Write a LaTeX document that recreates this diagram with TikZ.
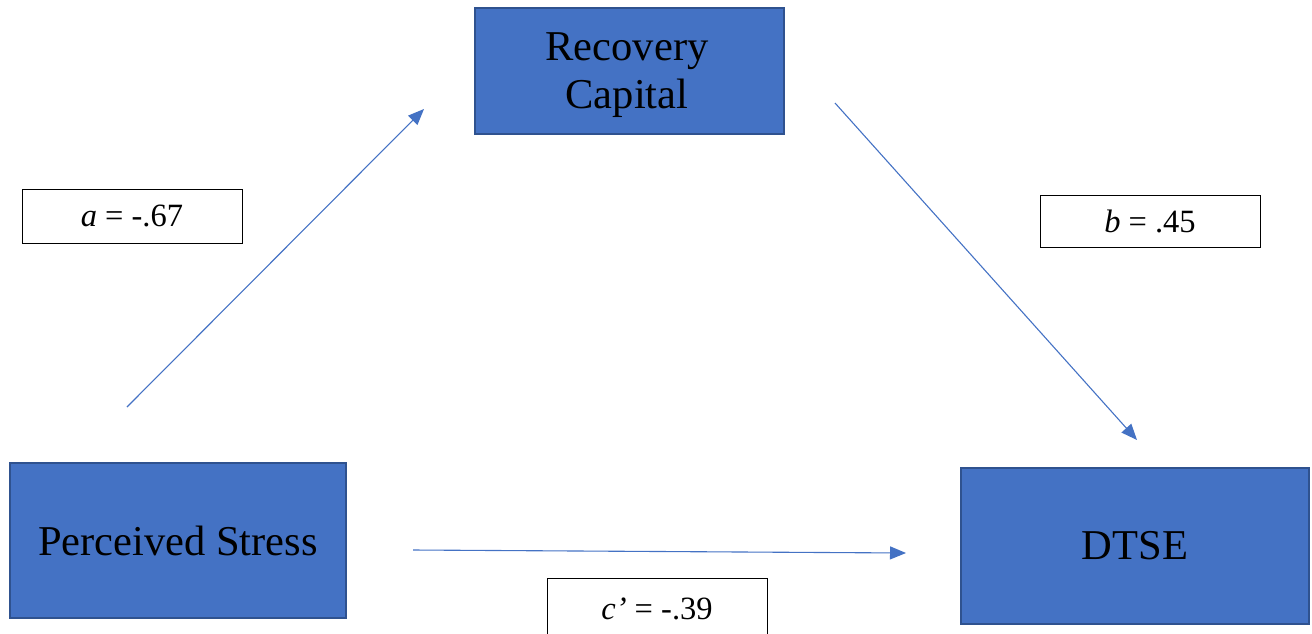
\documentclass[tikz,border=0pt]{standalone}
\usepackage{fontspec}
\setmainfont{Liberation Serif}
\usetikzlibrary{arrows.meta}
\definecolor{boxfill}{HTML}{4472C4}
\definecolor{boxline}{HTML}{2F528F}
\tikzset{
  varbox/.style={draw=boxline, line width=1.6pt, fill=boxfill, text=black, align=center, inner sep=0pt,
    font=\fontsize{42.5}{48}\selectfont},
  labbox/.style={draw=black, line width=0.9pt, fill=white, inner sep=0pt,
    font=\fontsize{32.5}{38}\selectfont},
  path/.style={draw=boxfill, line width=1.1pt, -{Triangle[length=16pt,width=13pt]}}
}
\begin{document}
\begin{tikzpicture}[x=1pt,y=-1pt]
\useasboundingbox (0,0) rectangle (1312,633);
\node[varbox, minimum width=309pt, minimum height=126pt] (rc) at (629.5,71) {};
\node[align=center, font=\fontsize{42.5}{48}\selectfont] (rct) at (627,75) {Recovery\\Capital};
\node[varbox, minimum width=336pt, minimum height=155pt] (ps) at (178,540.5) {Perceived Stress};
\node[varbox, minimum width=348pt, minimum height=156pt] (dt) at (1135,546) {DTSE};
\node[labbox, minimum width=220pt, minimum height=54pt] (la) at (132,216) {\textit{a} = -.67};
\node[labbox, minimum width=220pt, minimum height=52pt] (lb) at (1150,221) {\textit{b} = .45};
\node[labbox, minimum width=220pt, minimum height=62pt] (lc) at (657,609) {\textit{c’} = -.39};
\coordinate (a1) at (127,407);
\coordinate (a2) at (424,109);
\coordinate (b1) at (835,103);
\coordinate (b2) at (1137,440);
\coordinate (c1) at (413,550);
\coordinate (c2) at (906,553);
\draw[path] (a1) -- (a2);
\draw[path] (b1) -- (b2);
\draw[path] (c1) -- (c2);
\end{tikzpicture}
\end{document}
